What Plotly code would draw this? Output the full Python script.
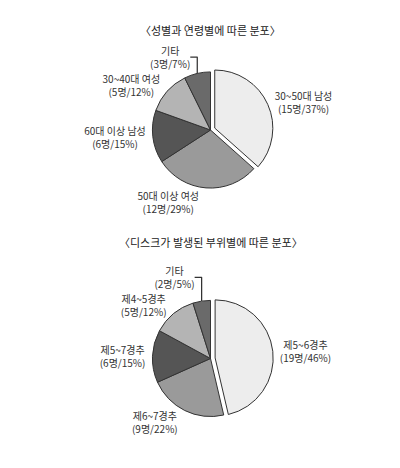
import plotly.graph_objects as go

title1 = "〈성별과 연령별에 따른 분포〉"
labels1 = ["30~50대 남성", "50대 이상 여성", "60대 이상 남성", "30~40대 여성", "기타"]
counts1 = [15, 12, 6, 5, 3]
pcts1 = [37, 29, 15, 12, 7]

title2 = "〈디스크가 발생된 부위별에 따른 분포〉"
labels2 = ["제5~6경추", "제6~7경추", "제5~7경추", "제4~5경추", "기타"]
counts2 = [19, 9, 6, 5, 2]
pcts2 = [46, 22, 15, 12, 5]

grays = ["#ededed", "#9a9a9a", "#555555", "#b4b4b4", "#6a6a6a"]

fig = go.Figure()
for labels, counts, pcts, dom in [
    (labels1, counts1, pcts1, [0.61, 0.89]),
    (labels2, counts2, pcts2, [0.10, 0.38]),
]:
    fig.add_trace(go.Pie(
        labels=labels, values=counts, sort=False, direction="clockwise", rotation=0,
        customdata=[f"({c}명/{p}%)" for c, p in zip(counts, pcts)],
        texttemplate="%{label}<br>%{customdata}", textposition="outside",
        textfont=dict(size=10, color="#333"),
        marker=dict(colors=grays, line=dict(color="#333", width=1)),
        pull=[0.08, 0, 0, 0, 0], domain=dict(x=[0.1, 0.9], y=dom),
        showlegend=False, hoverinfo="skip",
    ))

fig.add_annotation(text=title1, x=0.5, y=0.995, xref="paper", yref="paper",
                   showarrow=False, font=dict(size=11, color="#222"))
fig.add_annotation(text=title2, x=0.5, y=0.5, xref="paper", yref="paper",
                   showarrow=False, font=dict(size=11, color="#222"))
fig.update_layout(width=400, height=468, margin=dict(l=10, r=10, t=10, b=10),
                  paper_bgcolor="white", font=dict(family="Noto Sans CJK KR"))
fig.write_html("out.html")
